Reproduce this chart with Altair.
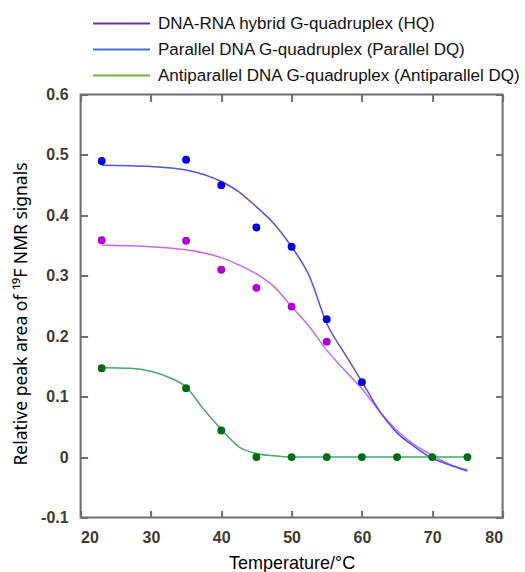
import altair as alt
import pandas as pd

# ---- data ----
series = ["DNA-RNA hybrid G-quadruplex (HQ)",
          "Parallel DNA G-quadruplex (Parallel DQ)",
          "Antiparallel DNA G-quadruplex (Antiparallel DQ)"]

# measured points
hq_T = [23, 35, 40, 45, 50, 55]
hq_v = [0.359, 0.358, 0.310, 0.280, 0.249, 0.191]
par_T = [23, 35, 40, 45, 50, 55, 60]
par_v = [0.490, 0.492, 0.450, 0.380, 0.348, 0.228, 0.124]
anti_T = [23, 35, 40, 45, 50, 55, 60, 65, 70, 75]
anti_v = [0.147, 0.114, 0.044, 0.0, 0.0, 0.0, 0.0, 0.0, 0.0, 0.0]

# fitted curves
fit_T = [23, 30, 35, 40, 42.5, 45, 47.5, 50, 52.5, 55, 57.5, 60, 62.5, 65, 67.5, 70, 72.5, 75]
hq_fit = [0.351, 0.348, 0.343, 0.330, 0.318, 0.303, 0.282, 0.249, 0.216, 0.177, 0.144, 0.113,
          0.076, 0.044, 0.020, 0.003, -0.012, -0.021]
par_fit = [0.483, 0.481, 0.475, 0.456, 0.439, 0.414, 0.386, 0.348, 0.300, 0.221, 0.172, 0.125,
           0.076, 0.040, 0.017, -0.002, -0.013, -0.023]
anti_fit_T = [23, 27, 30, 32.5, 35, 37.5, 40, 42.5, 45, 47.5, 50, 55, 60, 65, 70, 75]
anti_fit = [0.148, 0.147, 0.142, 0.132, 0.116, 0.079, 0.046, 0.017, 0.006, 0.002, 0.0,
            0.0, 0.0, 0.0, 0.0, 0.0]

x_ticks = [20, 30, 40, 50, 60, 70, 80]
y_ticks = [-0.1, 0, 0.1, 0.2, 0.3, 0.4, 0.5, 0.6]

line_colors = ["#c86aea", "#5252ee", "#47a86a"]
point_colors = ["#ae00d6", "#0000dc", "#006b12"]
legend_colors = ["#7030a0", "#4472c4", "#70ad47"]

# ---- tables ----
pts = pd.concat([
    pd.DataFrame({"T": hq_T, "v": hq_v, "s": series[0]}),
    pd.DataFrame({"T": par_T, "v": par_v, "s": series[1]}),
    pd.DataFrame({"T": anti_T, "v": anti_v, "s": series[2]}),
], ignore_index=True)
fits = pd.concat([
    pd.DataFrame({"T": fit_T, "v": hq_fit, "s": series[0]}),
    pd.DataFrame({"T": fit_T, "v": par_fit, "s": series[1]}),
    pd.DataFrame({"T": anti_fit_T, "v": anti_fit, "s": series[2]}),
], ignore_index=True)

W, H = 422, 423
FONT = "Liberation Sans"
GRAY = "#6e6e6e"
LABEL = "#433a2e"

xs = alt.Scale(domain=[20, 80], nice=False, zero=False)
ys = alt.Scale(domain=[-0.1, 0.6], nice=False, zero=False)

y_label_expr = "datum.value == 0 ? '0' : toString(round(datum.value*10)/10)"

# labelled axes (no ticks)
x_bottom = alt.Axis(values=x_ticks, format="d", grid=False, domain=False,
                    ticks=False, tickSize=0, labelPadding=12,
                    labelFont=FONT, labelFontSize=16, labelFontWeight="bold", labelColor=LABEL,
                    title="Temperature/°C", titleFont=FONT, titleFontSize=18,
                    titleFontWeight="normal", titleColor="black",
                    titleY=51, titleBaseline="alphabetic")
y_left = alt.Axis(values=y_ticks, labelExpr=y_label_expr, grid=False, domain=False,
                  ticks=False, tickSize=0, labelPadding=12.5,
                  labelFont=FONT, labelFontSize=16, labelFontWeight="bold", labelColor=LABEL,
                  title="Relative peak area of ¹⁹F NMR signals", titleFont="Noto Sans",
                  titleFontSize=17.5, titleFontWeight="normal", titleColor="black",
                  titleX=-58.6, titleY=219, titleAngle=-90, titleBaseline="middle",
                  titleAlign="center")

# tick-only axes flipped to the opposite edge so the ticks point inward
def tick_axis(orient, values, off):
    return alt.Axis(orient=orient, values=values, labels=False, title=None, grid=False,
                    domain=False, ticks=True, tickSize=7, tickWidth=2, tickColor=GRAY,
                    offset=off)

fit_layer = alt.Chart(fits).mark_line(strokeWidth=1.5, interpolate="monotone").encode(
    x=alt.X("T:Q", scale=xs, axis=x_bottom),
    y=alt.Y("v:Q", scale=ys, axis=y_left),
    color=alt.Color("s:N", scale=alt.Scale(domain=series, range=line_colors), legend=None),
    detail="s:N",
)

pt_layer = alt.Chart(pts).mark_circle(size=62, opacity=1).encode(
    x=alt.X("T:Q", scale=xs, axis=tick_axis("top", x_ticks, -H)),
    y=alt.Y("v:Q", scale=ys, axis=tick_axis("right", y_ticks, -W)),
    fill=alt.Fill("s:N", scale=alt.Scale(domain=series, range=point_colors), legend=None),
)

legend_layer = alt.Chart(fits).transform_filter("datum.T < 0").mark_line(strokeWidth=2).encode(
    x=alt.X("T:Q", scale=xs, axis=tick_axis("bottom", x_ticks, -H)),
    y=alt.Y("v:Q", scale=ys, axis=tick_axis("left", y_ticks, -W)),
    stroke=alt.Stroke("s:N", scale=alt.Scale(domain=series, range=legend_colors),
                      legend=alt.Legend(orient="none", legendX=11.4, legendY=-81,
                                        title=None, symbolType="stroke", symbolSize=3249,
                                        symbolStrokeWidth=2, symbolOpacity=1,
                                        labelFont=FONT, labelFontSize=17, labelColor="#111111",
                                        labelOffset=7, clipHeight=20, rowPadding=6,
                                        padding=0, labelLimit=0)),
)

chart = alt.layer(fit_layer, pt_layer, legend_layer).resolve_scale(
    color="independent", fill="independent", stroke="independent"
).resolve_axis(x="independent", y="independent").properties(
    width=W, height=H,
    autosize=alt.AutoSizeParams(type="none"),
    padding={"left": 80.6, "top": 94.5, "right": 22, "bottom": 54.5},
    background="white",
).configure_view(stroke=GRAY, strokeWidth=2)

chart.save("out.html", embed_options={"renderer": "svg", "actions": False})
